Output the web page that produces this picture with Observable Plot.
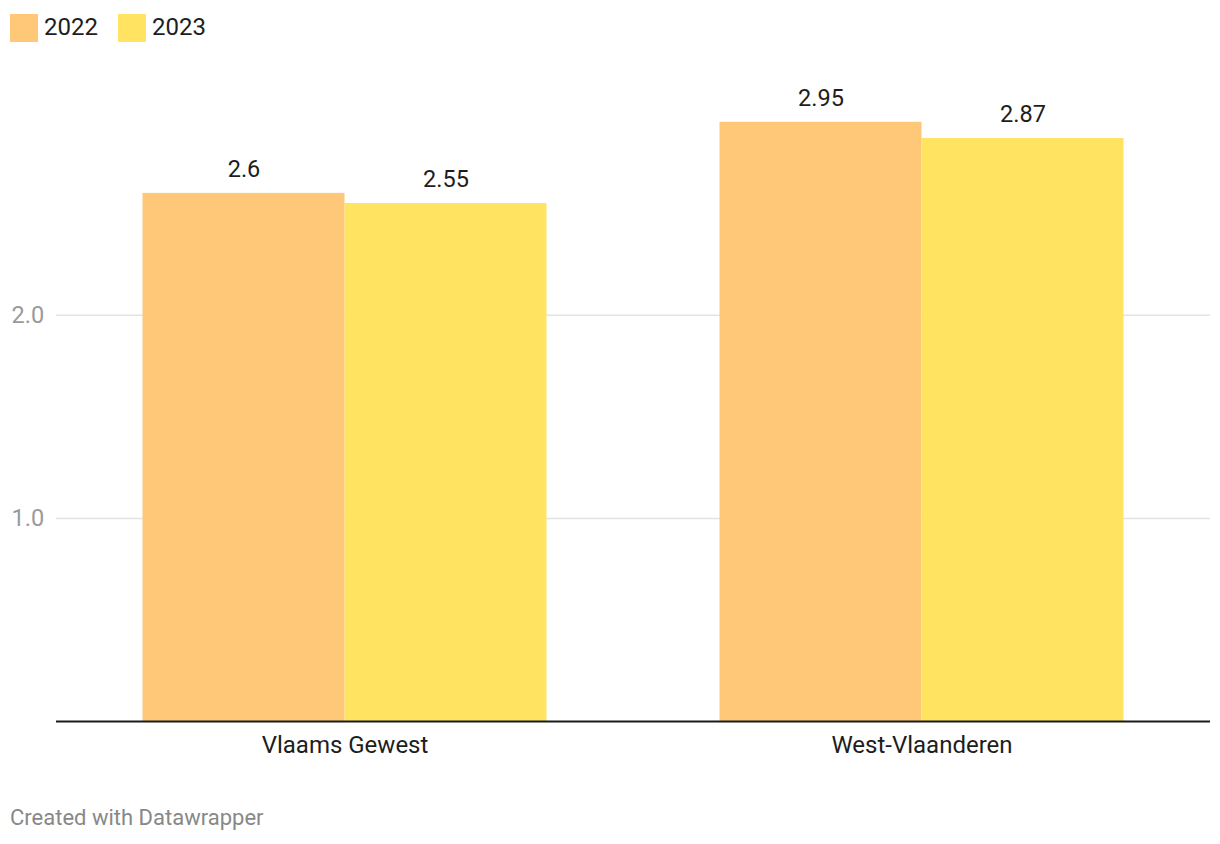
<!DOCTYPE html>
<html>
<head>
<meta charset="utf-8">
<script src="https://cdn.jsdelivr.net/npm/d3@7"></script>
<script src="https://cdn.jsdelivr.net/npm/@observablehq/plot@0.6"></script>
<style>
  body { margin: 0; background: #fff; font-family: Roboto, sans-serif; }
  #legend { height: 56px; position: relative; }
  .sw { position: absolute; top: 14px; width: 28px; height: 28px; }
  .lt { position: absolute; top: 10px; font-size: 24px; color: #1d1d1d; line-height: 34px; }
  #footer { margin: 24px 0 0 10px; font-size: 22px; color: #888; }
</style>
</head>
<body>
<div id="legend"></div>
<div id="chart"></div>
<div id="footer">Created with Datawrapper</div>
<script>
const regions = ["Vlaams Gewest", "West-Vlaanderen"];
const years = ["2022", "2023"];
const values2022 = [2.6, 2.95];
const values2023 = [2.55, 2.87];
const colors = ["#fec878", "#ffe361"];
const yTicks = [1, 2];

const data = [];
regions.forEach((r, i) => {
  data.push({region: r, year: years[0], value: values2022[i]});
  data.push({region: r, year: years[1], value: values2023[i]});
});

// legend
const legend = document.getElementById("legend");
const legendX = [10, 118];
years.forEach((y, i) => {
  const sw = document.createElement("div");
  sw.className = "sw"; sw.style.left = legendX[i] + "px"; sw.style.background = colors[i];
  legend.appendChild(sw);
  const t = document.createElement("div");
  t.className = "lt"; t.style.left = (legendX[i] + 34) + "px"; t.textContent = y;
  legend.appendChild(t);
});

const chart = Plot.plot({
  width: 1220,
  height: 725,
  marginLeft: 55.5,
  marginRight: 10.5,
  marginTop: 15,
  marginBottom: 60,
  style: {fontFamily: "Roboto, sans-serif", fontSize: "23.5px", background: "#fff"},
  fx: {domain: regions, paddingInner: 0, paddingOuter: 0, label: null},
  x: {domain: years, paddingInner: 0, paddingOuter: 0.428, axis: null},
  y: {domain: [0, 3.2], axis: null},
  color: {domain: years, range: colors},
  marks: [
    Plot.ruleY(yTicks, {stroke: "#e3e3e3", strokeWidth: 1.5}),
    Plot.axisY({ticks: yTicks, tickFormat: d3.format(".1f"), tickSize: 0, tickPadding: 0, textAnchor: "start", dx: -45, fill: "#9a9a9a", fontSize: 23.5, label: null}),
    Plot.barY(data, {fx: "region", x: "year", y: "value", fill: "year"}),
    Plot.text(data, {fx: "region", x: "year", y: "value", text: d => String(d.value), dy: -24, fill: "#1d1d1d", fontSize: 23.5}),
    Plot.ruleY([0], {stroke: "#1a1a1a", strokeWidth: 2}),
    Plot.axisFx({anchor: "bottom", tickSize: 0, tickPadding: 14, fill: "#1d1d1d", fontSize: 24, label: null})
  ]
});
document.getElementById("chart").appendChild(chart);
</script>
</body>
</html>
